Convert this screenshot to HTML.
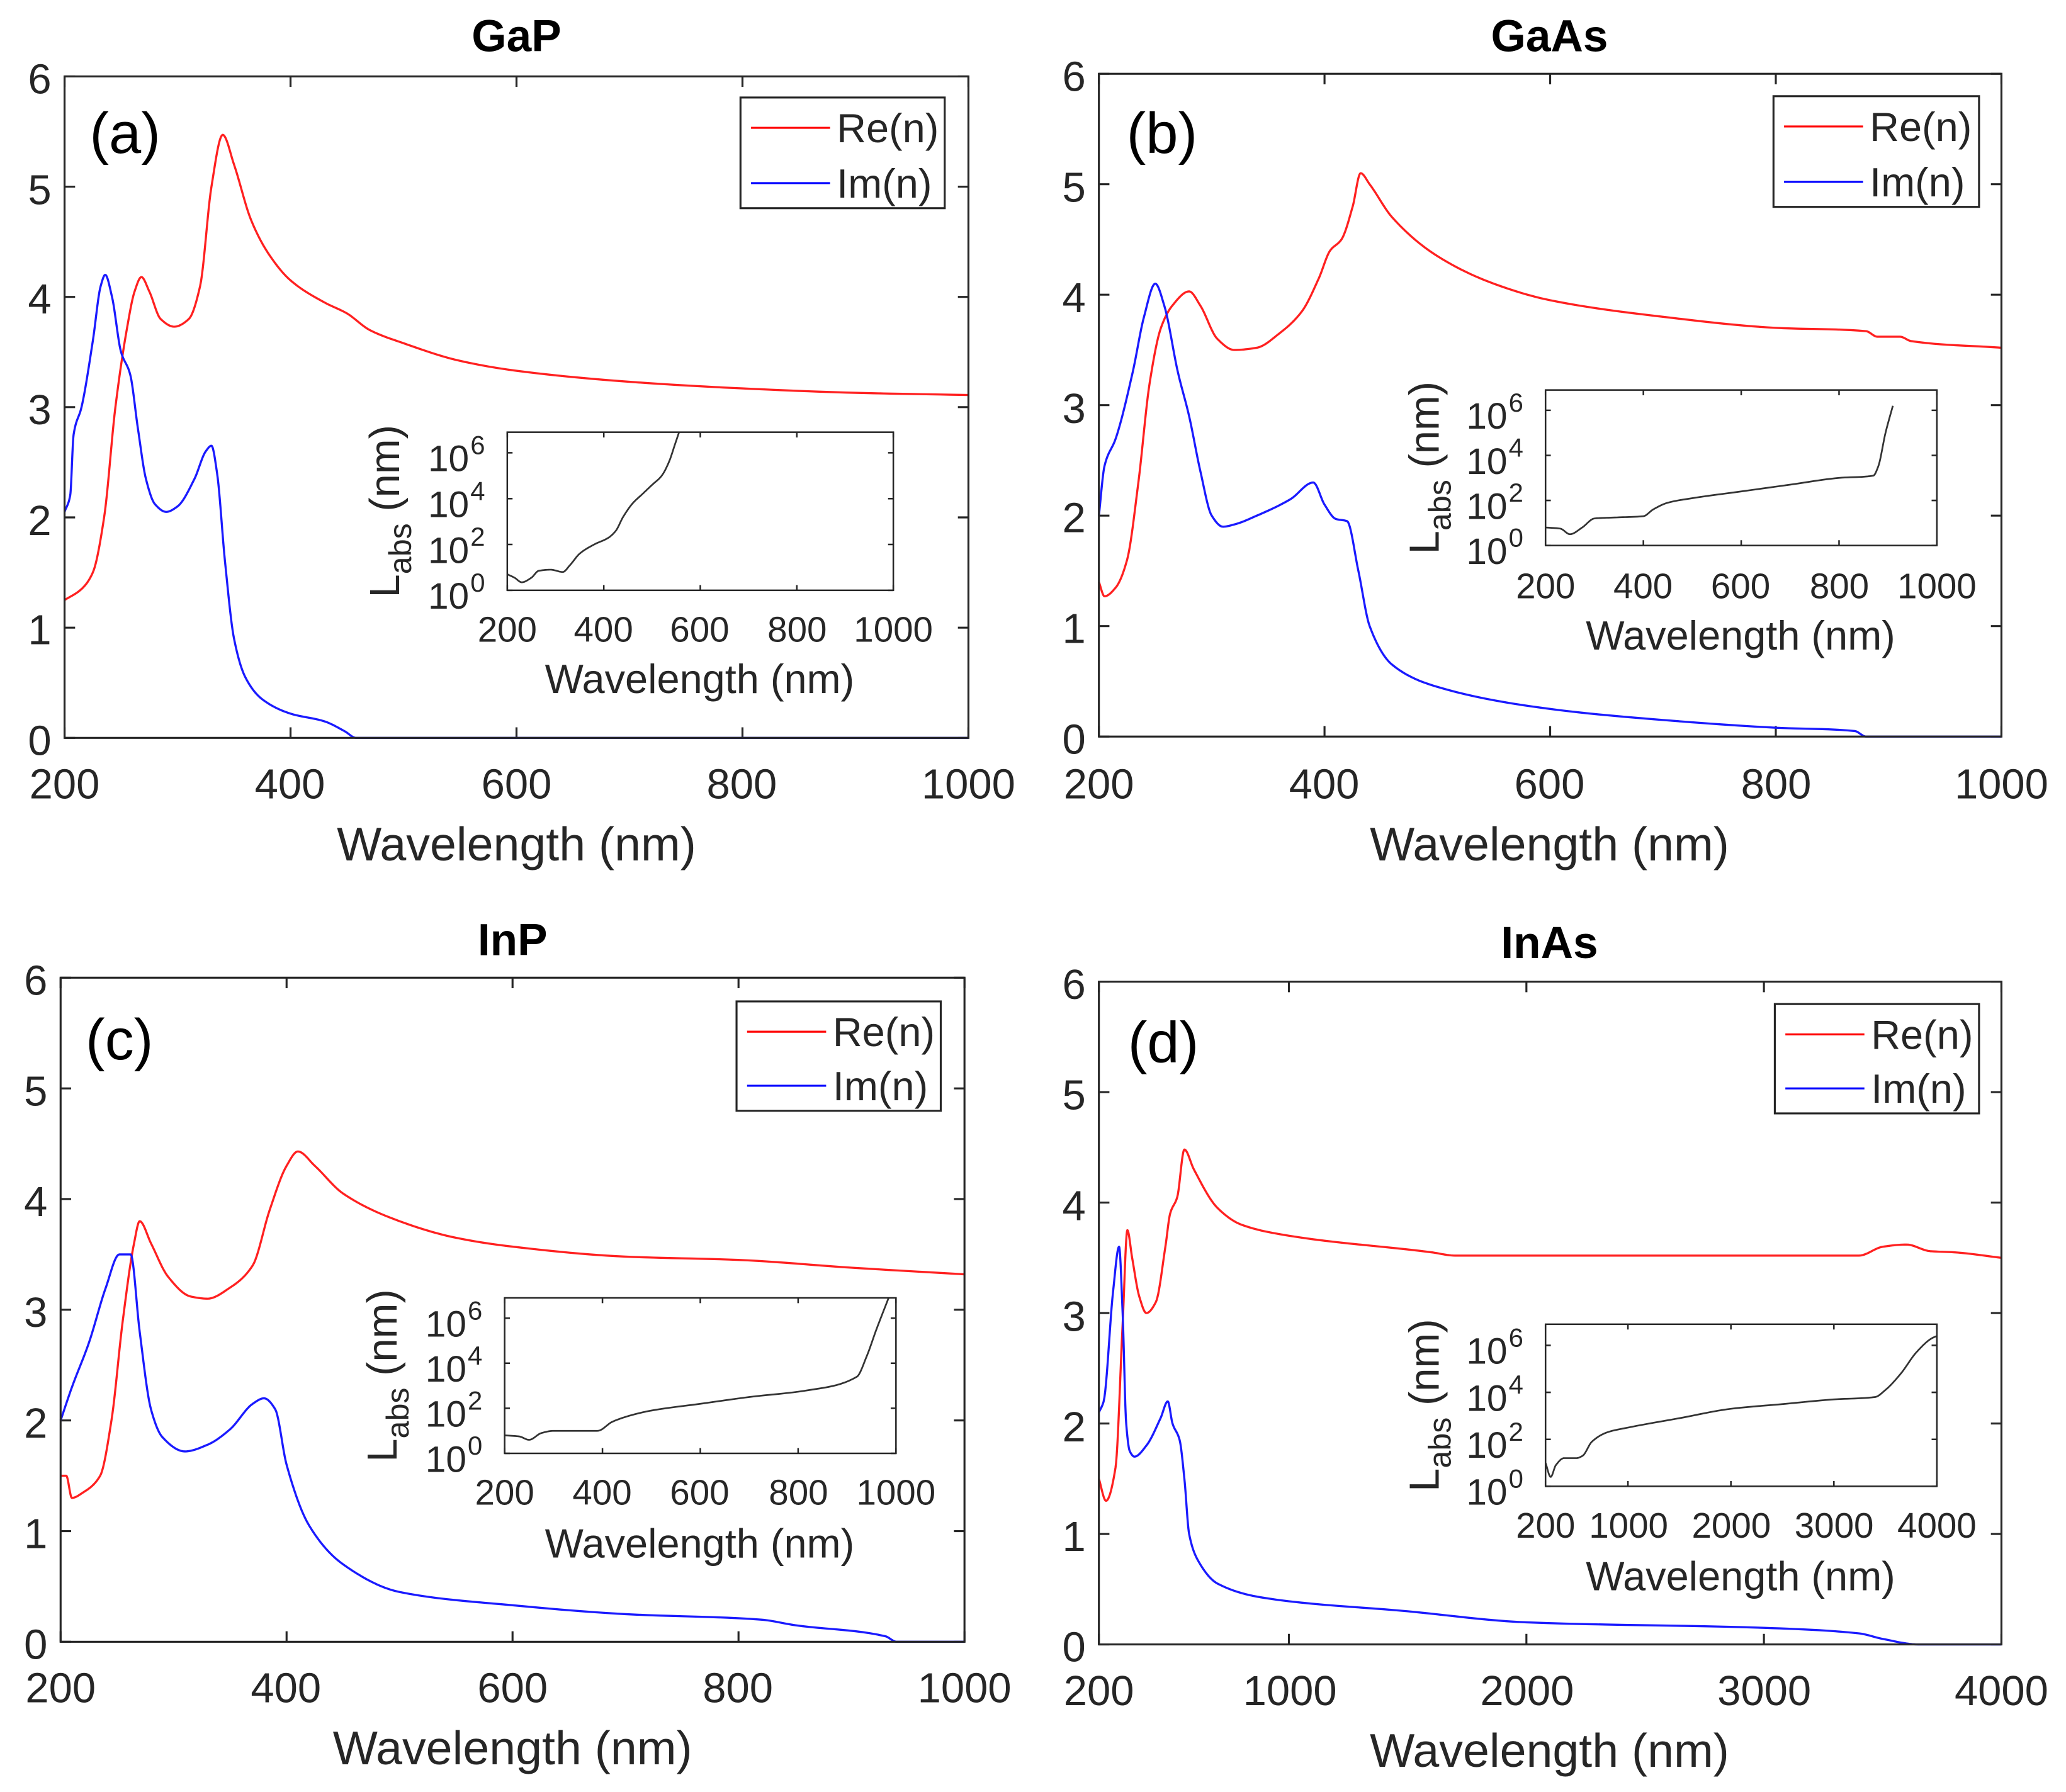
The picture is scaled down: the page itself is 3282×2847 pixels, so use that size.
<!DOCTYPE html>
<html><head><meta charset="utf-8"><style>
html,body{margin:0;padding:0;background:#fff}
svg{display:block}
text{font-family:"Liberation Sans",Arial,sans-serif;fill:#262626}
</style></head><body>
<svg id="s" width="3282" height="2847" viewBox="0 0 1568 1360" preserveAspectRatio="none" xmlns="http://www.w3.org/2000/svg">
<g id="g"></g>
<g font-size="34" font-weight="bold" text-anchor="middle">
<text x="392" y="39" style="fill:#000">GaP</text>
<text x="1176" y="39" style="fill:#000">GaAs</text>
<text x="389" y="725" style="fill:#000">InP</text>
<text x="1176" y="727" style="fill:#000">InAs</text>
</g>
<g font-size="44">
<text x="68" y="116" style="fill:#000">(a)</text>
<text x="855" y="116" style="fill:#000">(b)</text>
<text x="65" y="804" style="fill:#000">(c)</text>
<text x="856" y="806" style="fill:#000">(d)</text>
</g>
<g font-size="32" text-anchor="end">
<text x="39" y="71">6</text><text x="39" y="155">5</text><text x="39" y="238">4</text><text x="39" y="322">3</text><text x="39" y="406">2</text><text x="39" y="489">1</text><text x="39" y="573">0</text>
<text x="824" y="69">6</text><text x="824" y="153">5</text><text x="824" y="237">4</text><text x="824" y="321">3</text><text x="824" y="404">2</text><text x="824" y="488">1</text><text x="824" y="572">0</text>
<text x="36" y="755">6</text><text x="36" y="839">5</text><text x="36" y="923">4</text><text x="36" y="1007">3</text><text x="36" y="1091">2</text><text x="36" y="1175">1</text><text x="36" y="1259">0</text>
<text x="824" y="758">6</text><text x="824" y="842">5</text><text x="824" y="926">4</text><text x="824" y="1010">3</text><text x="824" y="1094">2</text><text x="824" y="1177">1</text><text x="824" y="1261">0</text>
</g>
<g font-size="32" text-anchor="middle">
<text x="49" y="606">200</text><text x="220" y="606">400</text><text x="392" y="606">600</text><text x="563" y="606">800</text><text x="735" y="606">1000</text>
<text x="834" y="606">200</text><text x="1005" y="606">400</text><text x="1176" y="606">600</text><text x="1348" y="606">800</text><text x="1519" y="606">1000</text>
<text x="46" y="1292">200</text><text x="217" y="1292">400</text><text x="389" y="1292">600</text><text x="560" y="1292">800</text><text x="732" y="1292">1000</text>
<text x="834" y="1294">200</text><text x="979" y="1294">1000</text><text x="1159" y="1294">2000</text><text x="1339" y="1294">3000</text><text x="1519" y="1294">4000</text>
</g>
<g font-size="36" text-anchor="middle">
<text x="392" y="653">Wavelength (nm)</text>
<text x="1176" y="653">Wavelength (nm)</text>
<text x="389" y="1339">Wavelength (nm)</text>
<text x="1176" y="1341">Wavelength (nm)</text>
</g>
<g font-size="31">
<rect x="562" y="74" width="155" height="84" fill="#fff" stroke="#262626" stroke-width="1.5"/>
<line x1="570" y1="97" x2="630" y2="97" stroke="#ff0000" stroke-width="1.5"/><line x1="570" y1="139" x2="630" y2="139" stroke="#0000ff" stroke-width="1.5"/>
<text x="635" y="108">Re(n)</text><text x="635" y="150">Im(n)</text>
<rect x="1346" y="73" width="156" height="84" fill="#fff" stroke="#262626" stroke-width="1.5"/>
<line x1="1354" y1="96" x2="1414" y2="96" stroke="#ff0000" stroke-width="1.5"/><line x1="1354" y1="138" x2="1414" y2="138" stroke="#0000ff" stroke-width="1.5"/>
<text x="1419" y="107">Re(n)</text><text x="1419" y="149">Im(n)</text>
<rect x="559" y="760" width="155" height="83" fill="#fff" stroke="#262626" stroke-width="1.5"/>
<line x1="567" y1="783" x2="627" y2="783" stroke="#ff0000" stroke-width="1.5"/><line x1="567" y1="824" x2="627" y2="824" stroke="#0000ff" stroke-width="1.5"/>
<text x="632" y="794">Re(n)</text><text x="632" y="835">Im(n)</text>
<rect x="1347" y="762" width="155" height="83" fill="#fff" stroke="#262626" stroke-width="1.5"/>
<line x1="1355" y1="785" x2="1415" y2="785" stroke="#ff0000" stroke-width="1.5"/><line x1="1355" y1="826" x2="1415" y2="826" stroke="#0000ff" stroke-width="1.5"/>
<text x="1420" y="796">Re(n)</text><text x="1420" y="837">Im(n)</text>
</g>
<g font-size="27" text-anchor="middle">
<text x="385" y="487">200</text><text x="458" y="487">400</text><text x="531" y="487">600</text><text x="605" y="487">800</text><text x="678" y="487">1000</text>
<text x="1173" y="454">200</text><text x="1247" y="454">400</text><text x="1321" y="454">600</text><text x="1396" y="454">800</text><text x="1470" y="454">1000</text>
<text x="383" y="1142">200</text><text x="457" y="1142">400</text><text x="531" y="1142">600</text><text x="606" y="1142">800</text><text x="680" y="1142">1000</text>
<text x="1173" y="1167">200</text><text x="1236" y="1167">1000</text><text x="1314" y="1167">2000</text><text x="1392" y="1167">3000</text><text x="1470" y="1167">4000</text>
</g>
<g font-size="31" text-anchor="middle">
<text x="531" y="526">Wavelength (nm)</text>
<text x="1321" y="493">Wavelength (nm)</text>
<text x="531" y="1182">Wavelength (nm)</text>
<text x="1321" y="1207">Wavelength (nm)</text>
</g>
<g id="insetlbl"></g>
</svg>
<script>
var NS="http://www.w3.org/2000/svg",G=document.getElementById("g"),IL=document.getElementById("insetlbl");
function el(t,a,p){var e=document.createElementNS(NS,t);for(var k in a)e.setAttribute(k,a[k]);(p||G).appendChild(e);return e;}
function axes(x0,x1,y0,y1,xmin,xmax,xt,ymin,ymax,yt,tl,sw){
  var X=function(v){return x0+(v-xmin)/(xmax-xmin)*(x1-x0)},Y=function(v){return y1-(v-ymin)/(ymax-ymin)*(y1-y0)};
  var d="";
  xt.forEach(function(v){var x=X(v);d+="M"+x+" "+y1+"v-"+tl+"M"+x+" "+y0+"v"+tl;});
  yt.forEach(function(v){var y=Y(v);d+="M"+x0+" "+y+"h"+tl+"M"+x1+" "+y+"h-"+tl;});
  el("path",{d:d,stroke:"#262626","stroke-width":sw,fill:"none"});
  return {X:X,Y:Y,box:function(){el("rect",{x:x0,y:y0,width:x1-x0,height:y1-y0,fill:"none",stroke:"#262626","stroke-width":sw});}};
}
function curve(ax,pts,col,w){
  // monotone cubic (Fritsch-Carlson) in data space, sampled
  var n=pts.length,xs=pts.map(p=>p[0]),ys=pts.map(p=>p[1]),d=[],m=[];
  for(var i=0;i<n-1;i++)d.push((ys[i+1]-ys[i])/(xs[i+1]-xs[i]));
  m[0]=d[0];m[n-1]=d[n-2];
  for(i=1;i<n-1;i++){ if(d[i-1]*d[i]<=0)m[i]=0; else{var w1=2*(xs[i+1]-xs[i])+(xs[i]-xs[i-1]),w2=(xs[i+1]-xs[i])+2*(xs[i]-xs[i-1]);m[i]=(w1+w2)/(w1/d[i-1]+w2/d[i]);} }
  var s="";
  for(i=0;i<n-1;i++){var h=xs[i+1]-xs[i];
    for(var k=0;k<=12;k++){var t=k/12,t2=t*t,t3=t2*t;
      var y=(2*t3-3*t2+1)*ys[i]+(t3-2*t2+t)*h*m[i]+(-2*t3+3*t2)*ys[i+1]+(t3-t2)*h*m[i+1];
      var x=xs[i]+t*h;
      s+=(s?"L":"M")+ax.X(x).toFixed(2)+" "+ax.Y(y).toFixed(2);}}
  el("path",{d:s,stroke:col,"stroke-width":w,fill:"none","stroke-linejoin":"round"});
}
var R="#ff2020",B="#1a1aff";
function panel(box,xr,xt,re,im){
  var ax=axes(box[0],box[1],box[2],box[3],xr[0],xr[1],xt,0,6,[0,1,2,3,4,5,6],8,1.5);
  curve(ax,re,R,1.6);curve(ax,im,B,1.6);ax.box();
}
panel([49,735,58,560],[200,1000],[200,400,600,800,1000],
[[200,1.25],[215,1.35],[225,1.5],[235,2.0],[245,3.0],[255,3.7],[262,4.05],[268,4.18],[275,4.05],[285,3.8],[297,3.73],[310,3.8],[320,4.1],[330,5.0],[340,5.47],[350,5.2],[365,4.7],[380,4.4],[400,4.15],[430,3.95],[450,3.85],[470,3.7],[500,3.58],[550,3.42],[600,3.33],[700,3.23],[800,3.17],[900,3.13],[1000,3.11]],
[[200,2.05],[205,2.2],[208,2.75],[215,3.0],[225,3.6],[232,4.1],[236,4.2],[242,4.0],[250,3.5],[258,3.3],[265,2.8],[272,2.35],[280,2.12],[290,2.05],[300,2.1],[315,2.35],[325,2.6],[330,2.65],[335,2.4],[342,1.6],[350,0.9],[360,0.55],[375,0.35],[400,0.22],[430,0.15],[448,0.06],[458,0],[600,0],[1000,0]]);
panel([834,1519,56,559],[200,1000],[200,400,600,800,1000],
[[200,1.4],[205,1.27],[215,1.35],[225,1.6],[235,2.3],[245,3.2],[255,3.7],[265,3.9],[280,4.03],[290,3.9],[305,3.6],[320,3.5],[340,3.52],[360,3.65],[380,3.85],[395,4.15],[405,4.4],[415,4.5],[425,4.8],[432,5.1],[440,5.0],[460,4.7],[500,4.35],[550,4.1],[600,3.95],[700,3.8],[800,3.7],[880,3.67],[890,3.62],[910,3.62],[920,3.58],[1000,3.52]],
[[200,2.0],[205,2.45],[215,2.7],[230,3.3],[240,3.8],[250,4.1],[258,3.9],[270,3.3],[280,2.9],[290,2.4],[300,2.0],[310,1.9],[320,1.92],[340,2.0],[370,2.15],[390,2.3],[400,2.1],[410,1.97],[420,1.95],[430,1.5],[440,1.0],[460,0.65],[500,0.45],[600,0.25],[700,0.15],[800,0.08],[870,0.05],[880,0],[1000,0]]);
panel([46,732,742,1246],[200,1000],[200,400,600,800,1000],
[[200,1.5],[205,1.5],[210,1.3],[220,1.35],[235,1.5],[245,2.0],[255,2.9],[265,3.6],[270,3.8],[280,3.6],[295,3.3],[315,3.12],[330,3.1],[350,3.2],[370,3.4],[385,3.9],[400,4.3],[410,4.43],[425,4.3],[450,4.05],[500,3.8],[550,3.65],[600,3.57],[700,3.48],[800,3.45],[900,3.38],[1000,3.32]],
[[200,2.0],[210,2.3],[225,2.7],[240,3.2],[252,3.5],[262,3.5],[270,2.8],[280,2.1],[290,1.85],[310,1.72],[330,1.78],[350,1.92],[370,2.15],[380,2.2],[390,2.1],[400,1.6],[420,1.05],[450,0.7],[500,0.45],[600,0.33],[700,0.25],[820,0.2],[850,0.15],[930,0.05],[940,0],[1000,0]]);
panel([834,1519,745,1248],[200,4000],[200,1000,2000,3000,4000],
[[200,1.5],[230,1.3],[270,1.6],[300,2.9],[320,3.75],[340,3.5],[370,3.15],[400,3.0],[440,3.1],[480,3.6],[500,3.9],[530,4.05],[560,4.48],[600,4.3],[700,3.95],[800,3.8],[1000,3.7],[1600,3.55],[1700,3.52],[3400,3.52],[3500,3.6],[3600,3.62],[3700,3.56],[3800,3.55],[4000,3.5]],
[[200,2.1],[220,2.2],[260,3.2],[285,3.6],[300,3.0],[315,2.0],[330,1.75],[350,1.7],[400,1.8],[460,2.05],[490,2.2],[510,2.0],[540,1.85],[560,1.5],[580,1.0],[620,0.75],[700,0.55],[900,0.42],[1500,0.3],[2000,0.2],[3000,0.15],[3400,0.1],[3500,0.05],[3650,0],[4000,0]]);

function inset(box,xr,xt,pts,lx){
  el("rect",{x:box[0],y:box[2],width:box[1]-box[0],height:box[3]-box[2],fill:"#fff"},G);
  var ax=axes(box[0],box[1],box[2],box[3],xr[0],xr[1],xt,0,6.9,[0,2,4,6],4,1.2);
  curve(ax,pts.map(function(p){return [p[0],Math.min(p[1],6.9)]}),"#333",1.3);
  ax.box();
  [0,2,4,6].forEach(function(e){var y=ax.Y(e);
    var t=el("text",{x:box[0]-29,y:y+14,"font-size":28,"text-anchor":"end"},IL);t.textContent="10";
    var s=el("text",{x:box[0]-28,y:y+1,"font-size":20},IL);s.textContent=String(e);});
  var cy=(box[2]+box[3])/2;
  var t=el("text",{transform:"translate("+lx+","+cy+") rotate(-90)","font-size":32,"text-anchor":"middle"},IL);
  var a=document.createElementNS(NS,"tspan");a.textContent="L";t.appendChild(a);
  var b=document.createElementNS(NS,"tspan");b.setAttribute("font-size","24");b.setAttribute("dy","9");b.textContent="abs";t.appendChild(b);
  var c=document.createElementNS(NS,"tspan");c.setAttribute("dy","-9");c.textContent=" (nm)";t.appendChild(c);
}
inset([385,678,328,448],[200,1000],[200,400,600,800,1000],
[[200,0.7],[215,0.55],[230,0.35],[250,0.55],[265,0.85],[290,0.9],[315,0.8],[330,1.1],[350,1.6],[380,2.0],[410,2.3],[425,2.6],[440,3.2],[460,3.8],[480,4.2],[500,4.6],[520,5.0],[535,5.6],[548,6.4],[556,7.2]],303);
inset([1173,1470,296,414],[200,1000],[200,400,600,800,1000],
[[200,0.8],[230,0.75],[250,0.5],[275,0.8],[300,1.2],[350,1.25],[400,1.3],[420,1.6],[450,1.9],[500,2.1],[600,2.4],[700,2.7],[800,3.0],[870,3.1],[880,3.5],[895,5.0],[910,6.2]],1092);
inset([383,680,985,1103],[200,1000],[200,400,600,800,1000],
[[200,0.8],[230,0.75],[250,0.6],[275,0.9],[300,1.0],[350,1.0],[390,1.0],[420,1.4],[460,1.7],[500,1.9],[600,2.2],[700,2.5],[820,2.8],[920,3.4],[940,4.3],[960,5.5],[985,6.9]],301);
inset([1173,1470,1005,1128],[200,4000],[200,1000,2000,3000,4000],
[[200,1.0],[250,0.4],[300,0.9],[380,1.2],[500,1.2],[560,1.3],[650,1.9],[800,2.3],[1000,2.5],[1500,2.9],[2000,3.3],[2500,3.5],[3000,3.7],[3400,3.8],[3500,4.1],[3650,4.8],[3800,5.7],[3950,6.3],[4000,6.4]],1092);
</script>
</body></html>
